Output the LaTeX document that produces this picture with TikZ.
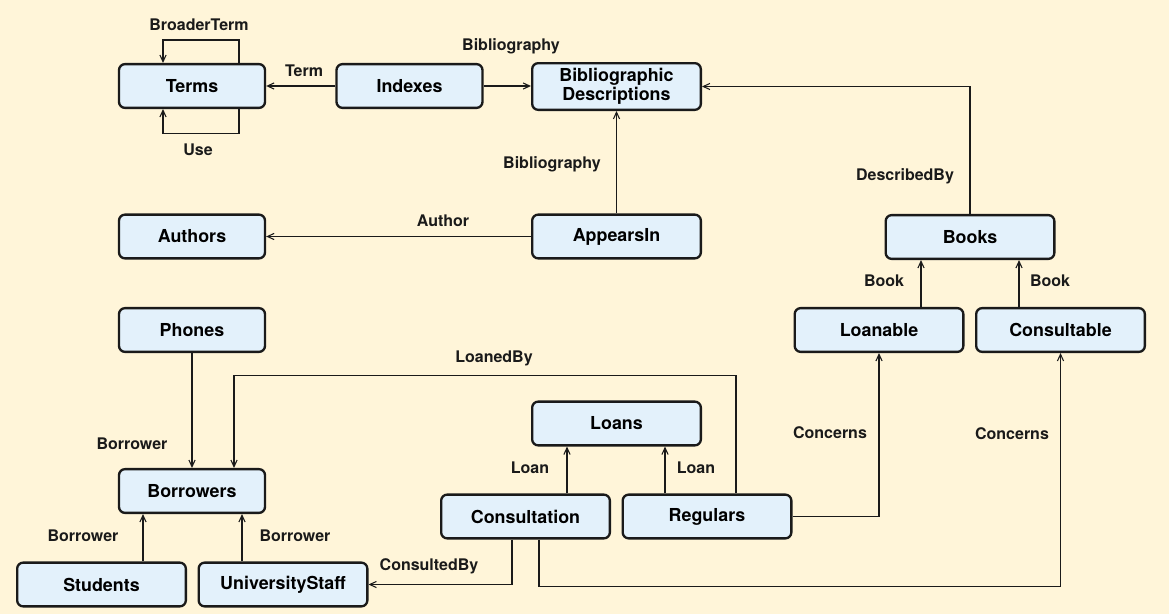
\documentclass[tikz,border=0pt]{standalone}
\usepackage{fontspec}
\setmainfont{TeX Gyre Heros}
\usetikzlibrary{arrows.meta,calc}
\definecolor{paper}{HTML}{FFF5D9}
\definecolor{boxfill}{HTML}{E3F1FB}
\definecolor{ink}{HTML}{1A1A1A}
\begin{document}
\begin{tikzpicture}[x=0.75pt,y=-0.75pt,
  entity/.style={draw=ink, line width=1.75pt, fill=boxfill, rounded corners=4.5pt,
    minimum height=32.8pt, inner sep=0pt,
    font=\fontsize{13.4}{14.5}\selectfont\bfseries, align=center},
  narrow/.style={entity, minimum width=109.5pt},
  wide/.style={entity, minimum width=126.5pt},
  conn/.style={draw=ink, line width=0.8pt, -{Straight Barb[length=5pt,width=4.6pt]}},
  lbl/.style={font=\fontsize{12}{14}\selectfont\bfseries, anchor=base, inner sep=0pt, text=ink}]

% canvas
\fill[paper] (0,0) rectangle (1169,614);
\useasboundingbox (0,0) rectangle (1169,614);

% entities
\node[narrow] (terms) at (192,86) {Terms};
\node[narrow] (indexes) at (409.5,86) {Indexes};
\node[wide, minimum height=35pt] (bib) at (616.5,86.5) {Bibliographic\\Descriptions};
\node[narrow] (authors) at (192,236.5) {Authors};
\node[wide] (appears) at (616.5,236.5) {AppearsIn};
\node[wide] (books) at (970,237) {Books};
\node[wide] (loanable) at (879,330) {Loanable};
\node[wide] (consultable) at (1060.5,330) {Consultable};
\node[narrow] (phones) at (192,330) {Phones};
\node[narrow] (borrowers) at (192,491) {Borrowers};
\node[wide] (students) at (101.5,584.5) {Students};
\node[wide] (staff) at (283,584.5) {UniversityStaff};
\node[wide] (loans) at (616.5,423.5) {Loans};
\node[wide] (consultation) at (525.5,516.5) {Consultation};
\node[wide] (regulars) at (707,516.5) {Regulars};

% references between entities
\draw[conn] ($(terms.north)+(47,0)$) -- ++(0,-23) -| ($(terms.north)+(-29,0)$);
\draw[conn] ($(terms.south)+(47,0)$) -- ++(0,24) -| ($(terms.south)+(-29,0)$);
\draw[conn] (indexes.west) -- (terms.east);
\draw[conn] (indexes.east) -- (bib.west |- indexes.east);
\draw[conn] (books.north) |- (bib.east);
\draw[conn] (appears.north) -- (bib.south);
\draw[conn] (appears.west) -- (authors.east);
\draw[conn] ($(loanable.north)+(42,0)$) -- ($(books.south)+(-49,0)$);
\draw[conn] ($(consultable.north)+(-41.5,0)$) -- ($(books.south)+(49,0)$);
\draw[conn] (phones.south) -- (borrowers.north);
\draw[conn] ($(regulars.north)+(29,0)$) -- ++(0,-118) -| ($(borrowers.north)+(42,0)$);
\draw[conn] ($(students.north)+(41.5,0)$) -- ($(borrowers.south)+(-49,0)$);
\draw[conn] ($(staff.north)+(-41,0)$) -- ($(borrowers.south)+(50,0)$);
\draw[conn] ($(consultation.south)+(-13.5,0)$) |- (staff.east);
\draw[conn] ($(consultation.south)+(13.5,0)$) -- ++(0,47) -| (consultable.south);
\draw[conn] (regulars.east) -| (loanable.south);
\draw[conn] ($(consultation.north)+(41.5,0)$) -- ($(loans.south)+(-49.5,0)$);
\draw[conn] ($(regulars.north)+(-42,0)$) -- ($(loans.south)+(48.5,0)$);

% reference names
\node[lbl] (l-broader) at (199,30.5) {BroaderTerm};
\node[lbl] (l-use) at (198,155) {Use};
\node[lbl] (l-term) at (304,76) {Term};
\node[lbl] (l-bib1) at (511,50) {Bibliography};
\node[lbl] (l-bib2) at (552,168) {Bibliography};
\node[lbl] (l-author) at (443,226) {Author};
\node[lbl] (l-described) at (905,180.5) {DescribedBy};
\node[lbl] (l-book1) at (884,286) {Book};
\node[lbl] (l-book2) at (1050,286) {Book};
\node[lbl] (l-borrower1) at (132,449) {Borrower};
\node[lbl] (l-loanedby) at (494,362) {LoanedBy};
\node[lbl] (l-borrower2) at (83,541.5) {Borrower};
\node[lbl] (l-borrower3) at (295,541.5) {Borrower};
\node[lbl] (l-consultedby) at (429,570) {ConsultedBy};
\node[lbl] (l-concerns1) at (830,438) {Concerns};
\node[lbl] (l-concerns2) at (1012,439) {Concerns};
\node[lbl] (l-loan1) at (530,473) {Loan};
\node[lbl] (l-loan2) at (696,473) {Loan};
\end{tikzpicture}
\end{document}
